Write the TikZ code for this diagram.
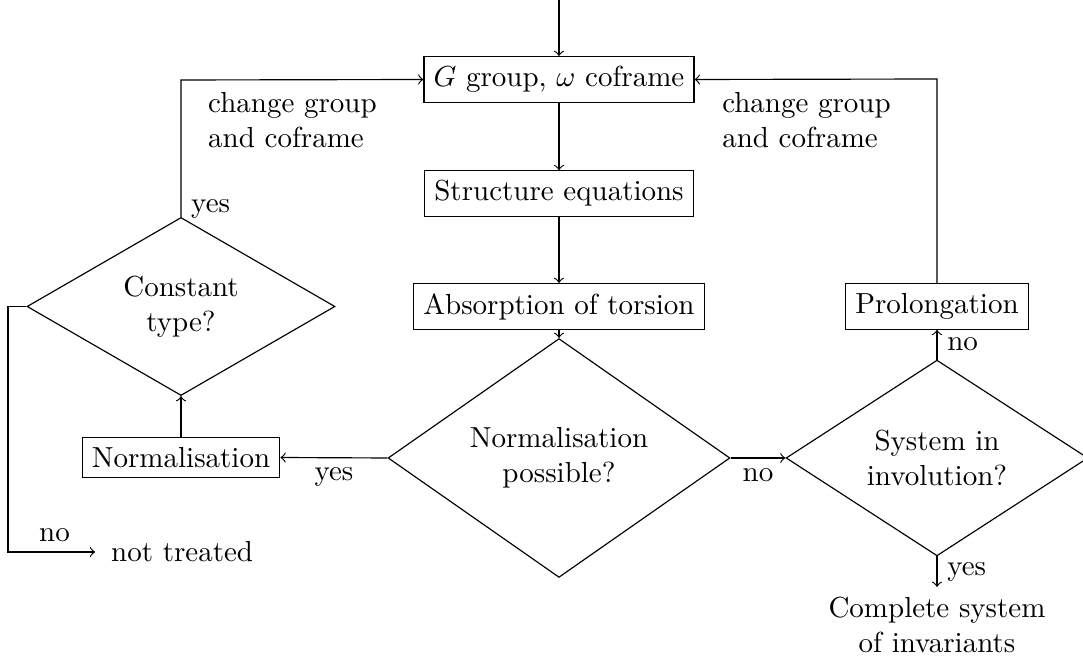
\documentclass[tikz,border=0pt]{standalone}
\usetikzlibrary{shapes.geometric}
\begin{document}
\begin{tikzpicture}[x=0.34483pt, y=-0.34483pt,
  box/.style={draw, rectangle, inner sep=0.333em},
  decision/.style={draw, diamond, inner sep=0pt, align=center},
  plain/.style={align=center},
  arr/.style={->}]
\useasboundingbox (0,0) rectangle (1083,658);
% nodes
\node[box] (G) at (559,79.5) {$G$ group, $\omega$ coframe};
\node[box] (S) at (559,193.5) {Structure equations};
\node[box] (A) at (559,306.5) {Absorption of torsion};
\node[decision, minimum width=117.9pt, minimum height=67.6pt] (NP) at (559,458) {Normalisation\\possible?};
\node[box] (N) at (181,457.5) {Normalisation};
\node[decision, minimum width=106.2pt, minimum height=61.4pt] (CT) at (181,306.5) {Constant\\type?};
\node[decision, minimum width=104.1pt, minimum height=59.0pt] (SI) at (937,458) {System in\\involution?};
\node[box] (P) at (937,306.5) {Prolongation};
\node[plain] (C) at (937,625) {Complete system\\of invariants};
\node[plain, anchor=west] (NT) at (101,552) {not treated};
\node[align=left, anchor=west] (LL) at (198,120) {change group\\and coframe};
\node[align=left, anchor=west] (RL) at (712,120) {change group\\and coframe};
\coordinate (start) at (559,0);
\coordinate (lc) at (181,80);
\coordinate (rc) at (937,79);
\coordinate (nc) at (8,306.5);
% connectors
\draw[arr] (start) -- (G.north);
\draw[arr] (G) -- (S);
\draw[arr] (S) -- (A);
\draw[arr] (A) -- (NP.north);
\draw[arr] (NP.west) -- node[below] {yes} (N.east);
\draw[arr] (N) -- (CT.south);
\draw[arr] (CT.north) -- node[pos=0.06, right] {yes} (lc) -- (G.west);
\draw[arr] (NP.east) -- node[below] {no} (SI.west);
\draw[arr] (SI.north) -- node[right] {no} (P.south);
\draw[arr] (P.north) -- (rc) -- (G.east);
\draw[arr] (SI.south) -- node[right] {yes} (C.north);
\draw[arr, shorten >=2pt] (CT.west) -- (nc) |- node[pos=0.75, above] {no} (NT.west);
\end{tikzpicture}
\end{document}
